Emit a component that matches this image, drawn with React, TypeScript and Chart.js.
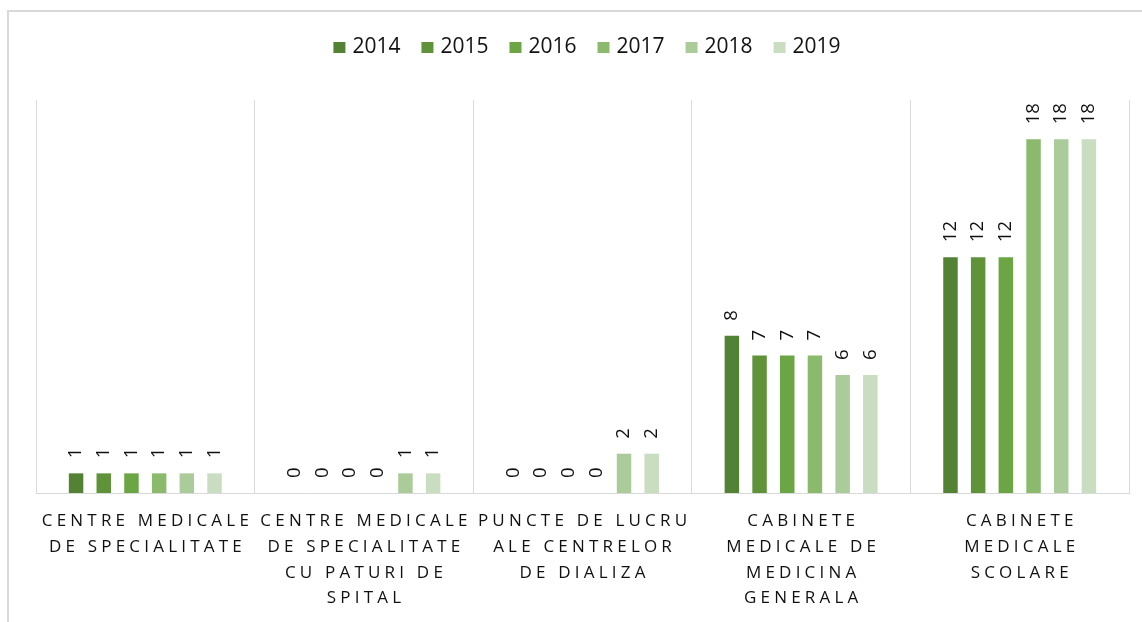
import React, { useEffect, useRef } from "react";
import { Chart, registerables } from "chart.js";

Chart.register(...registerables);

const categoryLines: string[][] = [
  ["CENTRE MEDICALE", "DE SPECIALITATE"],
  ["CENTRE MEDICALE", "DE SPECIALITATE", "CU PATURI DE", "SPITAL"],
  ["PUNCTE DE LUCRU", "ALE CENTRELOR", "DE DIALIZA"],
  ["CABINETE", "MEDICALE DE", "MEDICINA", "GENERALA"],
  ["CABINETE", "MEDICALE", "SCOLARE"],
];
const categories = categoryLines.map((l) => l.join(" "));

const years = ["2014", "2015", "2016", "2017", "2018", "2019"];
const values2014 = [1, 0, 0, 8, 12];
const values2015 = [1, 0, 0, 7, 12];
const values2016 = [1, 0, 0, 7, 12];
const values2017 = [1, 0, 0, 7, 18];
const values2018 = [1, 1, 2, 6, 18];
const values2019 = [1, 1, 2, 6, 18];
const seriesValues = [values2014, values2015, values2016, values2017, values2018, values2019];
const seriesColors = ["#548235", "#5f9239", "#6ba544", "#8bba6d", "#abcb9b", "#c9ddc0"];

const yMax = 20;
const FONT = "'Open Sans', 'DejaVu Sans', sans-serif";
const TEXT = "#111111";

const valueLabels = {
  id: "valueLabels",
  afterDatasetsDraw(chart: any) {
    const ctx = chart.ctx;
    ctx.save();
    ctx.font = `18.5px ${FONT}`;
    ctx.fillStyle = TEXT;
    ctx.textAlign = "left";
    ctx.textBaseline = "middle";
    chart.data.datasets.forEach((ds: any, di: number) => {
      const meta = chart.getDatasetMeta(di);
      meta.data.forEach((bar: any, i: number) => {
        const { x, y } = bar.getProps(["x", "y"], true);
        ctx.save();
        ctx.translate(x, y - 15);
        ctx.rotate(-Math.PI / 2);
        ctx.fillText(String(ds.data[i]), 0, 0);
        ctx.restore();
      });
    });
    ctx.restore();
  },
};

const customLegend = {
  id: "customLegend",
  afterDraw(chart: any) {
    const ctx = chart.ctx;
    ctx.save();
    ctx.font = `21px ${FONT}`;
    ctx.textBaseline = "middle";
    ctx.textAlign = "left";
    const box = 12;
    const gap = 7;
    const after = 21;
    const items = chart.data.datasets.map((ds: any) => ({
      text: ds.label,
      color: ds.backgroundColor,
      w: ctx.measureText(ds.label).width,
    }));
    const total = items.reduce((s: number, it: any) => s + box + gap + it.w + after, 0) - after;
    const cx = 587;
    let x = cx - total / 2;
    const cy = 47.5;
    items.forEach((it: any) => {
      ctx.fillStyle = it.color;
      ctx.fillRect(x, cy - 5.5, box, 11);
      ctx.fillStyle = TEXT;
      ctx.fillText(it.text, x + box + gap, cy);
      x += box + gap + it.w + after;
    });
    ctx.restore();
  },
};

const categoryLabels = {
  id: "categoryLabels",
  afterDraw(chart: any) {
    const ctx = chart.ctx;
    const xs = chart.scales.x;
    const ls = 4.2;
    ctx.save();
    ctx.font = `17px ${FONT}`;
    ctx.fillStyle = TEXT;
    ctx.textAlign = "left";
    ctx.textBaseline = "middle";
    (ctx as any).letterSpacing = `${ls}px`;
    categoryLines.forEach((lines, i) => {
      const cx = xs.getPixelForValue(i);
      lines.forEach((line, j) => {
        const w = ctx.measureText(line).width - ls;
        ctx.fillText(line, cx - w / 2, 521.5 + j * 25.7);
      });
    });
    ctx.restore();
  },
};

export default function App() {
  const ref = useRef<HTMLCanvasElement>(null);
  useEffect(() => {
    const chart = new Chart(ref.current as HTMLCanvasElement, {
      type: "bar",
      data: {
        labels: categories,
        datasets: years.map((y, i) => ({
          label: y,
          data: seriesValues[i],
          backgroundColor: seriesColors[i],
          borderWidth: 0,
          categoryPercentage: 0.76,
          barPercentage: 0.523,
        })),
      },
      options: {
        responsive: false,
        animation: false,
        devicePixelRatio: 1,
        layout: { padding: { left: 36, right: 13, top: 100, bottom: 129 } },
        plugins: {
          legend: { display: false },
          tooltip: { enabled: false },
          title: { display: false },
        },
        scales: {
          x: {
            offset: true,
            grid: { offset: true, color: "#d9d9d9", lineWidth: 1, drawTicks: false },
            border: { display: true, color: "#d9d9d9", width: 1 },
            ticks: { display: false },
          },
          y: {
            display: false,
            min: 0,
            max: yMax,
          },
        },
      },
      plugins: [valueLabels, customLegend, categoryLabels],
    });
    return () => chart.destroy();
  }, []);
  return (
    <div style={{ position: "fixed", left: 0, top: 0, width: 1142, height: 622, background: "#fff", overflow: "hidden" }}>
      <div
        style={{
          position: "absolute",
          left: 7,
          top: 10,
          right: 0,
          bottom: 0,
          borderLeft: "2px solid #d9d9d9",
          borderTop: "2px solid #d9d9d9",
        }}
      />
      <canvas ref={ref} width={1142} height={622} style={{ position: "absolute", left: 0, top: 0, width: 1142, height: 622 }} />
    </div>
  );
}
